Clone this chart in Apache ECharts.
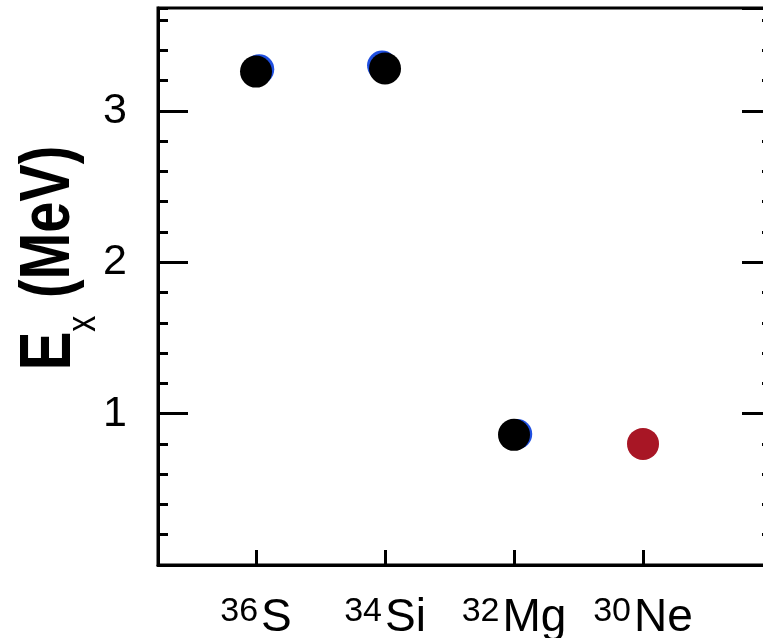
<!DOCTYPE html>
<html lang="en">
<head>
    <meta charset="UTF-8">
    <title>Ex systematics</title>
    <script src="https://cdn.jsdelivr.net/npm/echarts@6/dist/echarts.min.js"></script>
    <style>
        html, body { margin: 0; padding: 0; background: #fff; }
        #main { width: 763px; height: 638px; }
    </style>
</head>
<body>
    <div id="main"></div>
    <script type="text/javascript">
        // isotopes along the x axis
        const massNums = ['36', '34', '32', '30'];
        const elements = ['S', 'Si', 'Mg', 'Ne'];
        const xPos = [1, 2, 3, 4];
        // excitation energies (MeV)
        const exKnown = [3.26, 3.28, 0.86];     // black points
        const exNew = [0.80];                    // red point (30Ne)
        const exBlueX = [1.025, 1.977, 3.025];   // blue points, almost hidden behind black
        const exBlue = [3.275, 3.30, 0.865];

        var myChart = echarts.init(document.getElementById('main'));
        var font = 'Liberation Sans, Arial, sans-serif';

        function pairs(xs, ys) {
            return ys.map(function (v, i) { return [xs[i], v]; });
        }

        // shared pieces for the four y axes (major / minor ticks, left / right)
        function yAx(pos, step, len, extra) {
            var a = {
                type: 'value',
                position: pos,
                min: 0,
                max: 3.68,
                interval: step,
                axisLine: { show: false },
                axisTick: { show: true, inside: true, length: len, lineStyle: { color: '#000', width: 3 } },
                axisLabel: { show: false },
                splitLine: { show: false }
            };
            return Object.assign(a, extra || {});
        }

        var option = {
            animation: false,
            grid: {
                left: 158, right: -9, top: 8, bottom: 73,
                outerBoundsMode: 'none',
                show: true, borderColor: '#000', borderWidth: 3
            },
            xAxis: {
                type: 'value',
                min: 0.24,
                max: 5,
                axisLine: { lineStyle: { color: '#000', width: 3 } },
                axisTick: { inside: true, length: 15, customValues: xPos, lineStyle: { color: '#000', width: 3 } },
                splitLine: { show: false },
                axisLabel: {
                    customValues: xPos,
                    margin: 30,
                    formatter: function (v) {
                        var i = xPos.indexOf(v);
                        return '{sup|' + massNums[i] + '}{el|' + elements[i] + '}';
                    },
                    rich: {
                        sup: { fontSize: 34, fontFamily: font, color: '#000', verticalAlign: 'top', lineHeight: 46, padding: [0, 3, 14, 0] },
                        el: { fontSize: 46, fontFamily: font, color: '#000', lineHeight: 46 }
                    }
                }
            },
            yAxis: [
                yAx('left', 1, 30, {
                    axisLine: { show: true, lineStyle: { color: '#000', width: 3 } },
                    axisLabel: {
                        show: true, margin: 31, fontSize: 43, fontFamily: font, color: '#000',
                        showMinLabel: false, showMaxLabel: false
                    }
                }),
                yAx('left', 0.2, 10),
                yAx('right', 1, 30),
                yAx('right', 0.2, 10)
            ],
            graphic: [{
                type: 'text',
                x: 50,
                y: 258,
                rotation: Math.PI / 2,
                scaleY: 1.25,
                style: {
                    text: '{e|E}{sub|x}{u| (MeV)}',
                    align: 'center',
                    verticalAlign: 'middle',
                    rich: {
                        e: { fontSize: 58, fontWeight: 'bold', fontFamily: font, fill: '#000' },
                        sub: { fontSize: 32, fontFamily: font, fill: '#000', verticalAlign: 'bottom', padding: [0, 2, -14, 0] },
                        u: { fontSize: 56, fontWeight: 'bold', fontFamily: font, fill: '#000' }
                    }
                }
            }],
            series: [
                {
                    type: 'scatter', name: 'blue', symbolSize: 30,
                    itemStyle: { color: '#1f4fe0', opacity: 1 },
                    data: pairs(exBlueX, exBlue)
                },
                {
                    type: 'scatter', name: 'known', symbolSize: 32,
                    itemStyle: { color: '#000', opacity: 1 },
                    data: pairs(xPos, exKnown)
                },
                {
                    type: 'scatter', name: 'new', symbolSize: 32,
                    itemStyle: { color: '#a81625', opacity: 1 },
                    data: pairs(xPos.slice(3), exNew)
                }
            ]
        };
        myChart.setOption(option);
    </script>
</body>
</html>
